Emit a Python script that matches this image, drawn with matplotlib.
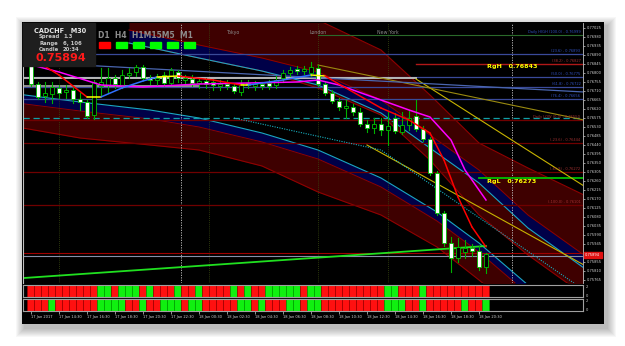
import numpy as np
import matplotlib
matplotlib.use("Agg")
import matplotlib.pyplot as plt
from matplotlib.patches import Rectangle

W, H = 625, 346

# ---------------- data (CADCHF M30) ----------------
opens = [0.76843, 0.76743, 0.76683, 0.76693, 0.76723, 0.76703, 0.76713, 0.76668, 0.76653, 0.76588,
         0.76733, 0.76738, 0.76773, 0.76738, 0.76788, 0.76803, 0.76828, 0.76773, 0.76763, 0.76788,
         0.76748, 0.76803, 0.76763, 0.76768, 0.76748, 0.76758, 0.76753, 0.76733, 0.76743, 0.76733,
         0.76703, 0.76748, 0.76733, 0.76743, 0.76748, 0.76738, 0.76773, 0.76798, 0.76818, 0.76808,
         0.76798, 0.76823, 0.76743, 0.76698, 0.76658, 0.76623, 0.76628, 0.76603, 0.76543, 0.76523,
         0.76543, 0.76513, 0.76573, 0.76503, 0.76538, 0.76583, 0.76518, 0.76468, 0.76298, 0.76098,
         0.75948, 0.75873, 0.75903, 0.75923, 0.75908, 0.75828]
closes = [0.76743, 0.76678, 0.76698, 0.76728, 0.76698, 0.76713, 0.76668, 0.76653, 0.76583, 0.76753,
          0.76753, 0.76773, 0.76743, 0.76788, 0.76798, 0.76828, 0.76773, 0.76763, 0.76773, 0.76748,
          0.76813, 0.76773, 0.76773, 0.76748, 0.76758, 0.76743, 0.76738, 0.76743, 0.76733, 0.76708,
          0.76743, 0.76738, 0.76743, 0.76733, 0.76733, 0.76763, 0.76798, 0.76813, 0.76808, 0.76818,
          0.76828, 0.76743, 0.76698, 0.76658, 0.76628, 0.76633, 0.76603, 0.76543, 0.76523, 0.76543,
          0.76513, 0.76533, 0.76508, 0.76538, 0.76573, 0.76518, 0.76468, 0.76298, 0.76098, 0.75948,
          0.75873, 0.75928, 0.75923, 0.75908, 0.75828, 0.75893]
highs = [0.76853, 0.76753, 0.76753, 0.76753, 0.76738, 0.76738, 0.76728, 0.76698, 0.76663, 0.76763,
         0.76823, 0.76823, 0.76788, 0.76813, 0.76823, 0.76838, 0.76838, 0.76788, 0.76793, 0.76803,
         0.76823, 0.76813, 0.76788, 0.76788, 0.76773, 0.76773, 0.76768, 0.76763, 0.76763, 0.76748,
         0.76763, 0.76763, 0.76758, 0.76753, 0.76763, 0.76783, 0.76813, 0.76828, 0.76833, 0.76833,
         0.76853, 0.76838, 0.76753, 0.76713, 0.76673, 0.76663, 0.76643, 0.76623, 0.76563, 0.76573,
         0.76573, 0.76603, 0.76598, 0.76603, 0.76613, 0.76663, 0.76533, 0.76478, 0.76308, 0.76108,
         0.75978, 0.75973, 0.75963, 0.75943, 0.75933, 0.75898]
lows = [0.76733, 0.76668, 0.76653, 0.76648, 0.76673, 0.76673, 0.76648, 0.76613, 0.76573, 0.76568,
        0.76688, 0.76698, 0.76723, 0.76723, 0.76773, 0.76783, 0.76763, 0.76743, 0.76733, 0.76733,
        0.76738, 0.76753, 0.76743, 0.76733, 0.76723, 0.76723, 0.76713, 0.76713, 0.76718, 0.76698,
        0.76688, 0.76723, 0.76713, 0.76718, 0.76718, 0.76723, 0.76753, 0.76783, 0.76793, 0.76793,
        0.76783, 0.76733, 0.76688, 0.76648, 0.76613, 0.76573, 0.76588, 0.76533, 0.76503, 0.76498,
        0.76488, 0.76438, 0.76498, 0.76493, 0.76513, 0.76508, 0.76458, 0.76288, 0.76088, 0.75933,
        0.75803, 0.75853, 0.75873, 0.75883, 0.75813, 0.75798]

# slow MA (magenta)
slow_bars = [-1, 4, 10, 16, 24, 31, 38, 41, 44, 50, 54, 57, 60, 62, 65]
slow_vals = [0.76848, 0.76803, 0.76738, 0.76728, 0.76743, 0.76748, 0.76753, 0.76763, 0.76738,
             0.76663, 0.76613, 0.76578, 0.76463, 0.76313, 0.76163]
# fast MA, coloured by slope
fast_bars = [-1, 1, 4, 8, 10, 13, 16, 18, 21, 26, 30, 31, 36, 40, 42, 45, 50, 54, 57, 59, 61, 63, 65]
fast_vals = [0.76913, 0.76853, 0.76788, 0.76678, 0.76678, 0.76723, 0.76758, 0.76778, 0.76783, 0.76763,
             0.76738, 0.76738, 0.76763, 0.76788, 0.76783, 0.76723, 0.76623, 0.76563, 0.76498, 0.76363,
             0.76178, 0.76028, 0.75928]
fast_trend = "rrrybbbyrrybbyrrrrrrrr"

# lower channel (cyan edge, navy strip, maroon band)
ch2_bars = [-2, 7, 17, 24, 33, 41, 50, 58, 64, 71, 79]
ch2_top = [0.76693, 0.76653, 0.76613, 0.76573, 0.76498, 0.76413, 0.76273, 0.76103, 0.75948, 0.75738, 0.75513]
ch2_bot = [0.76528, 0.76473, 0.76438, 0.76413, 0.76333, 0.76203, 0.76088, 0.75928, 0.75763, 0.75563, 0.75363]
# upper channel: maroon top edge, navy strip, lower maroon edge
ch1_bars = [14, 24, 33, 41, 50, 57, 64, 71, 79]
ch1_top = [0.77363, 0.77263, 0.77188, 0.77063, 0.76913, 0.76688, 0.76448, 0.76323, 0.76188]
ch1_mid = [0.77013, 0.76938, 0.76873, 0.76803, 0.76663, 0.76488, 0.76313, 0.76088, 0.75888]
ch1_bot = [0.76948, 0.76873, 0.76808, 0.76723, 0.76588, 0.76363, 0.76088, 0.75888, 0.75688]

# trend lines
yellow_lines = [([55, 79], [0.76768, 0.76233]), ([48, 79], [0.76438, 0.75838])]
olive_line = ([41, 79], [0.76838, 0.76563])
steel_line = ([-1, 79], [0.76853, 0.76703])
cyan_dotted = ([29, 50, 79], [0.76573, 0.76413, 0.75713])
green_line = ([-1, 65], [0.75773, 0.75933])

# levels
fib_text = ["Daily HIGH (100.0) - 0.76999", "(23.6) - 0.76893", "(38.2) - 0.76827", "(50.0) - 0.76775",
            "(61.8) - 0.76722", "(76.4) - 0.76656", "Daily LOW (0.0) - 0.76550", "(-23.6) - 0.76444",
            "(-61.8) - 0.76272", "(-100.0) - 0.76101"]
fib_lines = [0.76988, 0.76893, 0.76843, 0.76778, 0.76728, 0.76668, 0.76563, 0.76448, 0.76303, 0.76138]
fib_cols = ["#2a6a2a", "#3a4a9a", "#b01818", "#3a4a9a", "#3a4a9a", "#3a4a9a", "#700000", "#700000",
            "#700000", "#700000"]
rgh, rgl = 0.76843, 0.76273
bid = 0.75894

price_ticks = [0.77025, 0.76980, 0.76935, 0.76890, 0.76845, 0.76800, 0.76755, 0.76710, 0.76665,
               0.76620, 0.76575, 0.76530, 0.76485, 0.76440, 0.76395, 0.76350, 0.76305, 0.76260,
               0.76215, 0.76170, 0.76125, 0.76080, 0.76035, 0.75990, 0.75945, 0.75855,
               0.75810, 0.75765]
time_bars = [0, 4, 8, 12, 16, 20, 24, 28, 32, 36, 40, 44, 48, 52, 56, 60, 64]
time_labels = ["17 Jan 2017", "17 Jan 14:30", "17 Jan 16:30", "17 Jan 18:30", "17 Jan 20:30",
               "17 Jan 22:30", "18 Jan 00:30", "18 Jan 02:30", "18 Jan 04:30", "18 Jan 06:30",
               "18 Jan 08:30", "18 Jan 10:30", "18 Jan 12:30", "18 Jan 14:30", "18 Jan 16:30",
               "18 Jan 18:30", "18 Jan 20:30"]
sessions = ["Tokyo", "London", "New York"]
session_bars = [29, 41, 51]
session_lines = [4, 25.5, 41, 51]
day_lines = [21.5, 68.7]

osc1 = "RRRRRRRRRRGGRGGGRGRRRGRRGRRRRGRGRRGGGGGRGGRRRRRRRRRGGRRRGRRRRRRRRR"
osc2 = "RRRGRRRRRRGGGGRRGRRGGGRGGRRRRRGGRGRRRGGRGGRRRRRRRRRGGGRRGRRRRRGRRG"

tf_names = "D1  H4  H1M15M5  M1"
tf_state = ["red", "lime", "lime", "lime", "lime", "lime"]


def fx(x):
    return x / W


def fy(y):
    return 1 - y / H


fig = plt.figure(figsize=(6.25, 3.46), dpi=100, facecolor="white")

# window shadow and black frame
for k in range(9, 0, -1):
    fig.patches.append(Rectangle((fx(22 - k + 3), fy(324 + k + 4)), (582 + 2 * k) / W, (302 + 2 * k) / H,
                                 transform=fig.transFigure, color="black", alpha=0.03, lw=0, zorder=-3))
fig.patches.append(Rectangle((fx(22), fy(324)), 582 / W, 302 / H, transform=fig.transFigure,
                             color="black", lw=0, zorder=-2))

ax = fig.add_axes([fx(23), fy(283), 560 / W, 260 / H])
ax.set_facecolor("black")
ax.set_xlim(-1.14, 78.86)
ax.set_ylim(0.75748, 0.77048)

maroon, navy = "#3e0000", "#000048"
navy_w = 0.00065
# upper channel
ax.fill_between(ch1_bars, np.array(ch1_mid) - navy_w, ch1_top, color=maroon, lw=0, zorder=1)
ax.fill_between(ch1_bars, ch1_bot, np.array(ch1_mid) - navy_w, color=maroon, lw=0, zorder=1)
ax.fill_between(ch1_bars, np.array(ch1_mid) - navy_w, ch1_mid, color=navy, lw=0, zorder=1.1)
ax.plot(ch1_bars, ch1_top, color="#900000", lw=0.8, zorder=1.5)
ax.plot(ch1_bars, ch1_bot, color="#900000", lw=0.8, zorder=1.5)
ax.plot(ch1_bars, ch1_mid, color="#900000", lw=0.7, zorder=1.5)
ax.plot(ch1_bars, np.array(ch1_mid) - navy_w, color="#1aa6c4", lw=0.8, zorder=1.5)
# lower channel
ax.fill_between(ch2_bars, ch2_bot, np.array(ch2_top) - 0.00045, color=maroon, lw=0, zorder=1)
ax.fill_between(ch2_bars, np.array(ch2_top) - 0.00045, ch2_top, color=navy, lw=0, zorder=1)
ax.plot(ch2_bars, ch2_top, color="#1aa6c4", lw=0.8, zorder=1.5)
ax.plot(ch2_bars, np.array(ch2_top) - 0.00045, color="#900000", lw=0.7, zorder=1.5)
ax.plot(ch2_bars, ch2_bot, color="#900000", lw=0.8, zorder=1.5)

# vertical separators
for b in session_lines:
    ax.axvline(b, color="#3a4a10", lw=0.6, ls=(0, (1, 1.5)), zorder=2)
for b in day_lines:
    ax.axvline(b, color="#c8c8c8", lw=0.6, ls=(0, (1.5, 1.5)), zorder=2)

# horizontal levels
for p, c in zip(fib_lines, fib_cols):
    if c == "#b01818":
        ax.plot([55, 79], [p, p], color=c, lw=1.0, zorder=2)
    elif c == "#2a6a2a":
        ax.plot([41, 79], [p, p], color=c, lw=0.8, zorder=2)
    else:
        ax.axhline(p, color=c, lw=0.9, zorder=2)
ax.axhline(0.76573, color="#10a0a8", lw=0.9, ls=(0, (5, 3)), zorder=2)
ax.plot([-2, 55], [0.76773, 0.76773], color="#b8b8b8", lw=1.4, zorder=2)
ax.plot([-2, 24], [0.76733, 0.76733], color="#909090", lw=1.4, zorder=2)
ax.axhline(0.75898, color="#a00000", lw=0.8, zorder=2)
ax.axhline(0.75883, color="#8890a8", lw=0.8, zorder=2)
ax.plot([64, 79], [rgl, rgl], color="#00c000", lw=1.3, zorder=2)

for xs, ys in yellow_lines:
    ax.plot(xs, ys, color="#c8b400", lw=0.8, zorder=2.5)
ax.plot(*olive_line, color="#9a8a10", lw=0.8, zorder=2.5)
ax.plot(*steel_line, color="#4a66b0", lw=0.9, zorder=2.5)
ax.plot(*cyan_dotted, color="#18b0c0", lw=0.8, ls=(0, (1, 1.2)), zorder=2.5)
ax.plot(*green_line, color="#20e020", lw=1.3, zorder=2.5)

# candles
for i, (o, c, h, l) in enumerate(zip(opens, closes, highs, lows)):
    ax.plot([i, i], [l, h], color="#00b000", lw=0.8, zorder=3)
    face = "white" if c < o else "black"
    ax.add_patch(Rectangle((i - 0.34, min(o, c)), 0.68, max(abs(c - o), 0.00002),
                           facecolor=face, edgecolor="#00c000", lw=0.6, zorder=3.5))

# moving averages
ax.plot(slow_bars, slow_vals, color="#ff00ff", lw=1.1, zorder=4)
seg_col = {"r": "#ff0000", "y": "#ffff00", "b": "#3070ff"}
for k, t in enumerate(fast_trend):
    ax.plot(fast_bars[k:k + 2], fast_vals[k:k + 2], color=seg_col[t], lw=1.1, zorder=4.2,
            solid_capstyle="round")

# labels
for txt, p, c in zip(fib_text, fib_lines, fib_cols):
    col = "#3050c0" if c in ("#3a4a9a", "#2a6a2a") else "#a03030"
    ax.text(78.5, p + 0.00006, txt, color=col, fontsize=2.6, ha="right", va="bottom", zorder=5)
ax.text(65.2, rgh - 0.00012, "RgH   0.76843", color="#ffff00", fontsize=4.6, fontweight="bold",
        va="center", zorder=6)
ax.text(65.2, rgl - 0.0002, "RgL   0.76273", color="#ffff00", fontsize=4.6, fontweight="bold",
        va="center", zorder=6)
for name, b in zip(sessions, session_bars):
    ax.text(b, 0.77000, name, color="#8a8a8a", fontsize=3.4, ha="center", va="center", zorder=6)

ax.yaxis.tick_right()
ax.set_yticks(price_ticks)
ax.set_yticklabels([f"{p:.5f}" for p in price_ticks])
ax.tick_params(axis="y", colors="#d0d0d0", labelsize=2.6, length=1.5, pad=1, width=0.5)
ax.set_xticks([])
for s in ax.spines.values():
    s.set_visible(False)
ax.spines["right"].set_visible(True)
ax.spines["right"].set_color("#c0c0c0")
ax.spines["right"].set_linewidth(0.6)
ax.spines["left"].set_visible(True)
ax.spines["left"].set_color("#c0c0c0")
ax.spines["left"].set_linewidth(0.8)

# current price box on the axis
fig.patches.append(Rectangle((fx(584), fy(258)), 18 / W, 6 / H, transform=fig.transFigure,
                             color="#e01010", zorder=5))
fig.text(fx(585), fy(255), f"{bid:.5f}", color="white", fontsize=2.6, va="center", zorder=6)

# oscillator strips
for row, (yy, states) in enumerate([(285, osc1), (299, osc2)]):
    a = fig.add_axes([fx(23), fy(yy + 12), 560 / W, 12 / H])
    a.set_facecolor("black")
    a.set_xlim(-1.14, 78.86)
    a.set_ylim(0, 1)
    cols = ["#ff1010" if s == "R" else "#10f010" for s in states]
    edges = ["#a00000" if s == "R" else "#00a000" for s in states]
    a.bar(range(len(states)), 1, width=1.0, bottom=0, color=cols, edgecolor=edges, lw=0.5, align="center")
    for s in a.spines.values():
        s.set_color("#a0a0a0")
        s.set_linewidth(0.8)
    a.set_yticks([0.15, 0.85])
    a.set_yticklabels(["0", "2"])
    a.yaxis.tick_right()
    a.tick_params(axis="y", colors="#d0d0d0", labelsize=2.6, length=0, pad=2)
    if row == 0:
        a.set_xticks([])
    else:
        a.set_xticks(time_bars)
        a.set_xticklabels(time_labels)
        a.tick_params(axis="x", colors="#d0d0d0", labelsize=2.6, length=2, pad=0.8, width=0.5)
        for lbl in a.get_xticklabels():
            lbl.set_ha("left")

# info panel
fig.patches.append(Rectangle((fx(23), fy(66)), 72 / W, 43 / H, transform=fig.transFigure,
                             color="#1e1e1e", zorder=7))
fig.text(fx(34), fy(31), "CADCHF   M30", color="#e8e8e8", fontsize=4.7, fontweight="bold",
         va="center", zorder=8)
for k, (a_, b_) in enumerate([("Spread", "1.3"), ("Range", "6, 106"), ("Candle", "20:34")]):
    fig.text(fx(39), fy(36.5 + 6.5 * k), a_, color="#c8c8c8", fontsize=3.8, fontweight="bold",
             va="center", zorder=8)
    fig.text(fx(63), fy(36.5 + 6.5 * k), b_, color="#c8c8c8", fontsize=3.8, fontweight="bold",
             va="center", zorder=8)
fig.text(fx(35), fy(58), f"{bid:.5f}", color="#ff1a1a", fontsize=8.0, fontweight="bold",
         va="center", zorder=8)
fig.text(fx(98), fy(35), tf_names, color="#8c8c8c", fontsize=5.5, fontweight="bold",
         va="center", zorder=8)
for k, c in enumerate(tf_state):
    fig.patches.append(Rectangle((fx(99 + 17 * k), fy(48)), 11 / W, 6 / H, transform=fig.transFigure,
                                 color=c, zorder=8))

fig.savefig("out.png", dpi=100, facecolor="white")
